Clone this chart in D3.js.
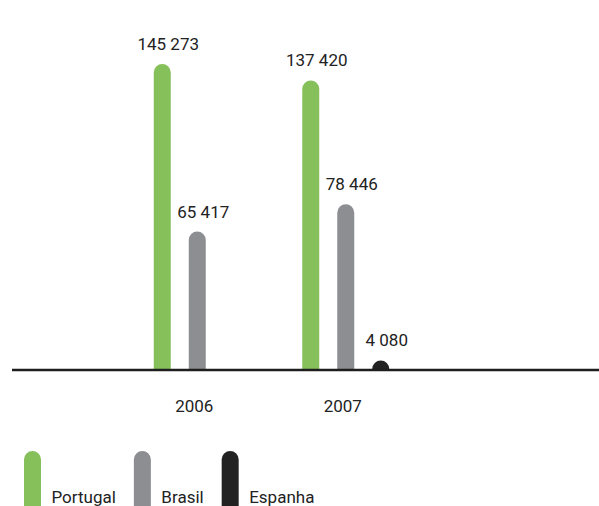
<!DOCTYPE html>
<html>
<head>
<meta charset="utf-8">
<script src="https://cdn.jsdelivr.net/npm/d3@7"></script>
<style>
  html, body { margin: 0; padding: 0; background: #fff; }
  svg { display: block; }
  text { font-family: Roboto, "Liberation Sans", sans-serif; fill: #222; }
</style>
</head>
<body>
<script>
// Chart data
const years = ["2006", "2007"];
const series = ["Portugal", "Brasil", "Espanha"];
const portugal = [145273, 137420];
const brasil = [65417, 78446];
const espanha = [null, 4080];
const colors = ["#86c05b", "#8d8e92", "#222222"];

const W = 599, H = 506;
const baseY = 369;
const barW = 17;

const rows = years.map((y, i) => ({
  year: y,
  values: [portugal[i], brasil[i], espanha[i]]
}));

const svg = d3.select("body").append("svg")
  .attr("width", W).attr("height", H);

const x0 = d3.scaleBand().domain(years).range([123, 420]);
const x1 = d3.scaleBand().domain(series).range([-52.5, 52.5]);
const y = d3.scaleLinear().domain([0, 175700]).range([baseY, 0]);
const color = d3.scaleOrdinal().domain(series).range(colors);

// Bar with a semicircular top
function roundBar(cx, top, bottom, w) {
  const r = w / 2;
  const h = bottom - top;
  if (h <= r) {
    // short bar: clipped cap
    const p = d3.path();
    const dy = r - h;
    const a = Math.acos(Math.min(1, dy / r));
    p.moveTo(cx - r * Math.sin(a), bottom);
    p.arc(cx, bottom + dy, r, -Math.PI / 2 - a, -Math.PI / 2 + a);
    p.closePath();
    return p.toString();
  }
  const p = d3.path();
  p.moveTo(cx - r, bottom);
  p.lineTo(cx - r, top + r);
  p.arc(cx, top + r, r, Math.PI, 0);
  p.lineTo(cx + r, bottom);
  p.closePath();
  return p.toString();
}

const slotCenter = (year, s) =>
  x0(year) + x0.bandwidth() / 2 + x1(s) + x1.bandwidth() / 2;

const items = [];
rows.forEach(r => r.values.forEach((v, j) => {
  if (v != null) items.push({ year: r.year, series: series[j], value: v });
}));

const g = svg.append("g");

g.selectAll("path.bar").data(items).join("path")
  .attr("class", "bar")
  .attr("fill", d => color(d.series))
  .attr("d", d => {
    const cx = slotCenter(d.year, d.series);
    const top = y(d.value);
    return roundBar(cx, top, baseY, barW);
  });

// Value labels
const fmt = v => d3.format(",")(v).replace(/,/g, " ");
g.selectAll("text.val").data(items).join("text")
  .attr("class", "val")
  .attr("x", d => slotCenter(d.year, d.series) + 6)
  .attr("y", d => y(d.value) - 14)
  .attr("text-anchor", "middle")
  .attr("font-size", 17)
  .text(d => fmt(d.value));

// Baseline
svg.append("line")
  .attr("x1", 12).attr("x2", W)
  .attr("y1", baseY + 1).attr("y2", baseY + 1)
  .attr("stroke", "#1e1e1e").attr("stroke-width", 2.5);

// Year labels
svg.selectAll("text.year").data(years).join("text")
  .attr("class", "year")
  .attr("x", d => x0(d) + x0.bandwidth() / 2 - 3)
  .attr("y", 412)
  .attr("text-anchor", "middle")
  .attr("font-size", 17)
  .text(d => d);

// Legend
const leg = svg.append("g");
let lx = 24;
series.forEach(s => {
  const gi = leg.append("g");
  gi.append("path")
    .attr("fill", color(s))
    .attr("d", roundBar(lx + barW / 2, 451, H + 2, barW));
  const t = gi.append("text")
    .attr("x", lx + barW + 10.5)
    .attr("y", 503)
    .attr("font-size", 17)
    .text(s);
  lx = lx + barW + 10.5 + t.node().getComputedTextLength() + 18;
});
</script>
</body>
</html>
